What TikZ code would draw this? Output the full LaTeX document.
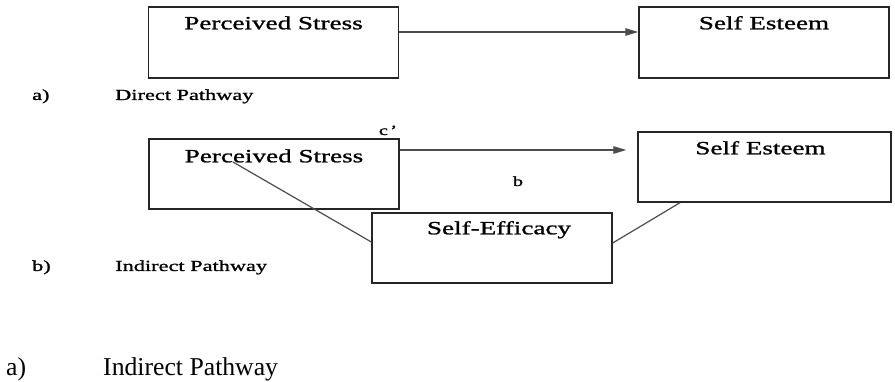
\documentclass[tikz,border=0pt]{standalone}
\usepackage{fontspec}
\setmainfont{Liberation Serif}
\newfontfamily\figfont[FakeStretch=1.45,FakeBold=1.2]{Liberation Serif}
\usetikzlibrary{positioning,arrows.meta}

\begin{document}
\begin{tikzpicture}[x=1pt,y=-1pt,>={Triangle[length=13pt,width=7.5pt]},
  box/.style={draw=black!85,line width=1.4pt,minimum width=250pt,minimum height=71pt,inner sep=0pt},
  lbl/.style={anchor=base,inner sep=0pt,font=\figfont\fontsize{18.7}{20}\selectfont},
  tag/.style={anchor=base west,inner sep=0pt,font=\figfont\fontsize{15.4}{17}\selectfont},
  coef/.style={anchor=base,inner sep=0pt,font=\figfont\fontsize{14}{16}\selectfont},
  path/.style={black!70,line width=1.2pt}]
\useasboundingbox (0,0) rectangle (895,382);

% ---- a) direct pathway
\node[box] (ps1) at (273.5,42.5) {};
\node[box] (se1) at (764,42.5) {};
\node[lbl] (ps1t) at ([yshift=-23pt]ps1.north) {Perceived Stress};
\node[lbl] (se1t) at ([yshift=-23pt]se1.north) {Self Esteem};
\draw[path,->] ([yshift=10.5pt]ps1.east) -- ([yshift=10.5pt]se1.west);
\node[tag] (ta) at (32,100) {a)};
\node[tag] (tadir) at (115,100) {Direct Pathway};

% ---- b) indirect pathway
\node[box,minimum height=70pt] (ps2) at (274,174) {};
\node[box,minimum width=253pt,minimum height=70pt] (se2) at (764.5,167) {};
\node[box,minimum width=240pt,minimum height=70pt] (sef) at (492,248) {};
\node[lbl] (ps2t) at ([yshift=-24pt]ps2.north) {Perceived Stress};
\node[lbl] (se2t) at ([xshift=-4pt,yshift=-23pt]se2.north) {Self Esteem};
\node[lbl] (seft) at ([xshift=7pt,yshift=-22pt]sef.north) {Self-Efficacy};
\coordinate (cend) at ([xshift=-11pt,yshift=17pt]se2.west);
\draw[path,->] ([yshift=24pt]ps2.east) -- (cend);
\draw[path] ([xshift=-41pt,yshift=12pt]ps2.center) -- ([yshift=6pt]sef.west);
\draw[path] ([yshift=5pt]sef.east) -- ([xshift=-84.5pt]se2.south);
\node[coef] (cprime) at (388,135) {c\,’};
\node[coef] (bcoef) at (518,186) {b};
\node[tag] (tb) at (32,271) {b)};
\node[tag] (tbind) at (115,271) {Indirect Pathway};

% ---- caption
\node[anchor=base west,inner sep=0pt,font=\fontsize{25.7}{28}\selectfont] (ca) at (6,375) {a)};
\node[anchor=base west,inner sep=0pt,font=\fontsize{25.7}{28}\selectfont] (caind) at (103,375) {Indirect Pathway};
\end{tikzpicture}
\end{document}
